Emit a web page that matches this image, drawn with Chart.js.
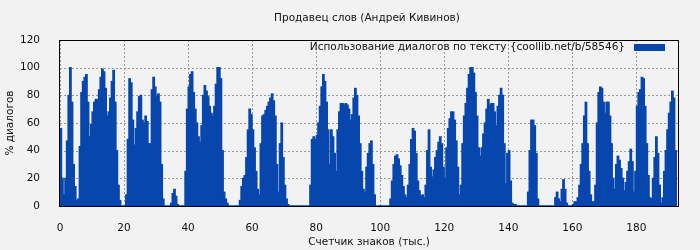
<!DOCTYPE html>
<html>
<head>
<meta charset="utf-8">
<script src="https://cdn.jsdelivr.net/npm/chart.js@4/dist/chart.umd.min.js"></script>
<style>
  html, body { margin: 0; padding: 0; background: #f2f2f2; }
  #wrap { width: 700px; height: 250px; }
</style>
</head>
<body>
<div id="wrap"><canvas id="chart" width="700" height="250"></canvas></div>
<script>
// --- Datos ---
const chartTitle = 'Продавец слов (Андрей Кивинов)';
const seriesLabel = 'Использование диалогов по тексту {coollib.net/b/58546}';
const xTitle = 'Счетчик знаков (тыс.)';
const yTitle = '% диалогов';

const sampleStep = 0.5;          // тыс. знаков на столбец
const xTicks = [0, 20, 40, 60, 80, 100, 120, 140, 160, 180];
const yTicks = [0, 20, 40, 60, 80, 100, 120];
const xMax = 193;

// % диалогов, по одному значению на каждые 0.5 тыс. знаков
const dialogPct = [
  // 0
  56, 20, 8, 20, 47, 80, 100, 75, 30, 14,
  4, 5, 43, 82, 90, 93, 95, 75, 50, 59,
  68, 75, 77, 77, 84, 93, 99, 97, 85, 65,
  68, 78, 90, 98, 75, 40, 15, 4, 0, 0,
  // 20
  0, 8, 48, 92, 89, 62, 44, 56, 68, 79,
  80, 62, 60, 65, 61, 45, 45, 84, 93, 86,
  79, 81, 75, 30, 5, 0, 0, 0, 0, 2,
  9, 12, 7, 1, 0, 0, 0, 0, 25, 70,
  // 40
  86, 95, 97, 82, 70, 60, 50, 46, 58, 80,
  87, 83, 79, 72, 67, 65, 72, 88, 100, 100,
  92, 40, 10, 5, 2, 0, 0, 0, 0, 0,
  0, 0,
  // 56
  4, 14, 20, 22, 35, 55, 70, 66, 55, 42,
  25, 12, 8, 45, 65, 66, 69, 72, 75, 78,
  81, 76, 65, 30, 10, 45, 60, 35, 15, 5,
  1, 0,
  // 72
  0, 0, 0, 0, 0, 0, 0, 0, 0, 0, 0, 0,
  // 78
  15, 48, 50, 48, 51, 60, 72, 86, 95, 90,
  75, 55, 30, 55, 50, 38, 25, 55, 68, 74,
  74, 73, 74, 73, 70, 62, 66, 78, 85, 80,
  65, 45, 25, 12, 10, 28, 38, 45, 47, 30,
  8,
  // 98.5
  0, 0, 0, 0, 0, 0, 0, 0, 0,
  // 103
  5, 18, 30, 36, 37, 34, 29, 22, 14, 8,
  6, 15, 30, 48, 56, 54, 38, 18, 11, 7,
  8, 6, 15, 40, 55, 28, 21, 26, 35, 40,
  46, 50, 45, 28, 20, 42, 56, 63, 68, 68,
  62, 47, 28, 8, 15, 45, 65, 74, 85, 95,
  100,
  // 128.5
  100, 96, 82, 65, 42, 36, 42, 52, 60, 70,
  77, 73, 74, 74, 68, 58, 72, 80, 85, 80,
  45, 16, 38, 40, 18, 2, 1, 1,
  // 142.5
  0, 0, 0, 0, 0, 0, 0,
  // 146
  10, 40, 62, 62, 58, 38, 5,
  // 149.5
  0, 0, 0, 0, 0, 0, 0, 0, 0, 0,
  // 154.5
  6, 10, 5, 3, 12, 19, 12, 2,
  // 158.5
  0, 0, 0,
  // 160
  1, 3, 3, 6, 15, 30, 45, 65, 75, 45,
  25, 8, 3, 3, 15, 60, 82, 86, 85, 75,
  67, 75, 75, 65, 45, 20, 12, 30, 36, 33,
  27, 20, 11, 17, 25, 32, 41, 32, 10, 25,
  72, 82, 84, 93, 92, 72, 45, 22, 6, 5,
  20, 35, 50, 38, 15, 2, 6, 25, 40, 55,
  67, 75, 83, 78, 40
];

const charThousands = dialogPct.map((_, i) => (i + 0.5) * sampleStep);

// --- Estilos ---
const BAR_COLOR = '#0747ad';
const GRID_COLOR = '#999999';
const FONT = "10.5px 'DejaVu Sans', sans-serif";
Chart.defaults.font.family = "'DejaVu Sans', sans-serif";
Chart.defaults.font.size = 10.5;
Chart.defaults.color = '#111';

// rejilla punteada, título, leyenda y marco dibujados a mano
const framePlugin = {
  id: 'frame',
  beforeDraw(chart) {
    const ctx = chart.ctx;
    ctx.save();
    ctx.fillStyle = '#f2f2f2';
    ctx.fillRect(0, 0, chart.width, chart.height);
    ctx.restore();
  },
  beforeDatasetsDraw(chart) {
    const { ctx, chartArea: a, scales } = chart;
    ctx.save();
    ctx.strokeStyle = GRID_COLOR;
    ctx.lineWidth = 1;
    ctx.setLineDash([2, 2]);
    ctx.beginPath();
    xTicks.forEach(v => {
      const px = Math.round(scales.x.getPixelForValue(v)) + 0.5;
      ctx.moveTo(px, a.top);
      ctx.lineTo(px, a.bottom);
    });
    yTicks.forEach(v => {
      const py = Math.round(scales.y.getPixelForValue(v)) + 0.5;
      ctx.moveTo(a.left, py);
      ctx.lineTo(a.right, py);
    });
    ctx.stroke();
    ctx.restore();
  },
  afterDraw(chart) {
    const { ctx, chartArea: a } = chart;
    ctx.save();
    ctx.strokeStyle = '#000';
    ctx.lineWidth = 1;
    ctx.strokeRect(Math.round(a.left) - 0.5, Math.round(a.top) + 0.5,
                   Math.round(a.right - a.left) + 1, Math.round(a.bottom - a.top));

    ctx.fillStyle = '#111';
    ctx.font = FONT;
    ctx.textBaseline = 'middle';
    ctx.textAlign = 'center';
    ctx.fillText(chartTitle, (a.left + a.right) / 2 - 2, 18);

    ctx.textAlign = 'right';
    ctx.fillText(seriesLabel, a.right - 53, a.top + 7);
    ctx.fillStyle = BAR_COLOR;
    ctx.fillRect(a.right - 44, a.top + 4, 31, 7);
    ctx.restore();
  }
};

const ctx = document.getElementById('chart').getContext('2d');
new Chart(ctx, {
  type: 'bar',
  data: {
    datasets: [{
      label: seriesLabel,
      data: charThousands.map((x, i) => ({ x: x, y: dialogPct[i] })),
      backgroundColor: BAR_COLOR,
      borderWidth: 0,
      barPercentage: 1,
      categoryPercentage: 1,
      inflateAmount: 0.6,
      grouped: false
    }]
  },
  options: {
    responsive: false,
    animation: false,
    layout: { padding: { top: 40, right: 22, left: 0, bottom: 0 } },
    plugins: {
      legend: { display: false },
      title: { display: false },
      tooltip: { enabled: false }
    },
    scales: {
      x: {
        type: 'linear',
        offset: false,
        min: 0,
        max: xMax,
        afterBuildTicks: (scale) => { scale.ticks = xTicks.map(v => ({ value: v })); },
        afterFit: (scale) => { scale.height = 44; },
        ticks: { padding: 8, maxRotation: 0, autoSkip: false },
        grid: { display: false },
        border: { display: false },
        title: { display: true, text: xTitle, padding: { top: 4, bottom: 1 } }
      },
      y: {
        min: 0,
        max: 120,
        afterBuildTicks: (scale) => { scale.ticks = yTicks.map(v => ({ value: v })); },
        afterFit: (scale) => { scale.width = 60; },
        ticks: { padding: 12 },
        grid: { display: false },
        border: { display: false },
        title: { display: true, text: yTitle, padding: { top: 4, bottom: 4 } }
      }
    }
  },
  plugins: [framePlugin]
});
</script>
</body>
</html>
